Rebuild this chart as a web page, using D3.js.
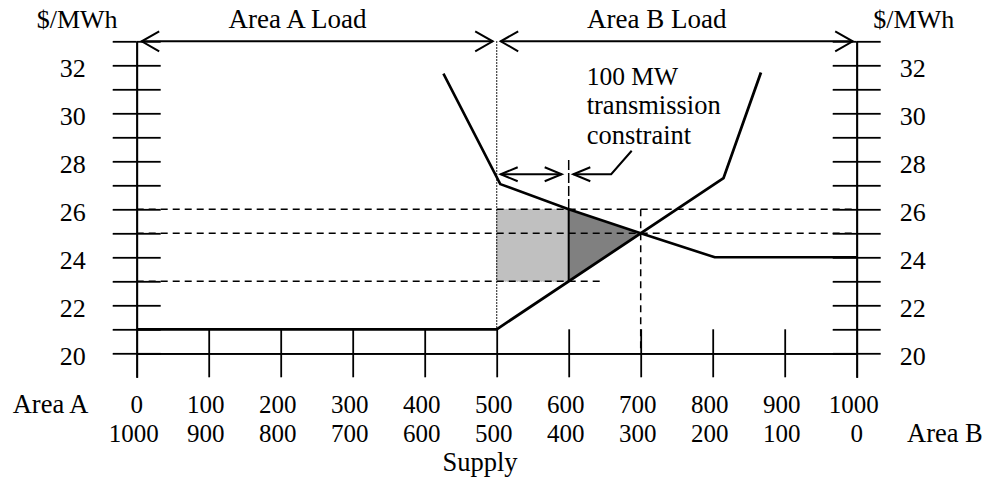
<!DOCTYPE html>
<html>
<head>
<meta charset="utf-8">
<script src="https://cdn.jsdelivr.net/npm/d3@7"></script>
<style>
  html, body { margin: 0; padding: 0; background: #fff; }
  svg text { font-family: "Liberation Serif", "Times New Roman", serif; fill: #000; }
</style>
</head>
<body>
<svg id="chart" width="982" height="480"></svg>
<script>
// ---------------- data ----------------
const priceTicks = [20, 21, 22, 23, 24, 25, 26, 27, 28, 29, 30, 31, 32, 33];
const priceLabels = [20, 22, 24, 26, 28, 30, 32];
const mwTicks = [0, 100, 200, 300, 400, 500, 600, 700, 800, 900, 1000];
const areaALabels = ["0", "100", "200", "300", "400", "500", "600", "700", "800", "900", "1000"];
const areaBLabels = ["1000", "900", "800", "700", "600", "500", "400", "300", "200", "100", "0"];
// Area A supply curve (MW, $/MWh)
const supplyA = [[0, 21], [500, 21], [815, 27.3], [867, 31.7]];
// Area B curve (MW, $/MWh)
const curveB = [[426, 31.65], [505, 27.05], [600, 26], [700, 25], [803, 24], [1000, 24]];
// shaded areas
const lightRect = [[500, 23], [600, 23], [600, 26], [500, 26]];
const darkTri = [[600, 26], [700, 25], [600, 23]];
// dashed guide lines
const hDashes = [{ price: 26, from: 0, to: 1000 }, { price: 25, from: 0, to: 1000 }, { price: 23, from: 0, to: 650 }];
const vDash700 = { mw: 700, from: 20, to: 26 };
const boundaryMW = 500;
const constraintMW = 600;
const constraintTop = 28.05;

// ---------------- scales ----------------
const svg = d3.select("#chart");
const x = d3.scaleLinear().domain([0, 1000]).range([136.7, 856.7]);
const y = d3.scaleLinear().domain([19, 33]).range([377.3, 41.3]);
const FS = 26;
const FSN = 25;

// ---------------- shading ----------------
const lineGen = d3.line().x(d => x(d[0])).y(d => y(d[1]));
svg.append("path").attr("d", lineGen(lightRect) + "Z").attr("fill", "#c0c0c0")
  .attr("stroke", "#a8a8a8").attr("stroke-width", 1).attr("stroke-dasharray", "1,1");
svg.append("path").attr("d", lineGen(darkTri) + "Z").attr("fill", "#808080");

// ---------------- dashed guides ----------------
hDashes.forEach(h => {
  svg.append("line")
    .attr("x1", x(h.from)).attr("x2", x(h.to))
    .attr("y1", y(h.price)).attr("y2", y(h.price))
    .attr("stroke", "#000").attr("stroke-width", 1.5).attr("stroke-dasharray", "7,5");
});
svg.append("line")
  .attr("x1", x(vDash700.mw)).attr("x2", x(vDash700.mw))
  .attr("y1", y(vDash700.to)).attr("y2", y(vDash700.from))
  .attr("stroke", "#000").attr("stroke-width", 1.5).attr("stroke-dasharray", "7,5");
// dotted boundary at 500
svg.append("line")
  .attr("x1", x(boundaryMW)).attr("x2", x(boundaryMW))
  .attr("y1", y(33)).attr("y2", y(21))
  .attr("stroke", "#000").attr("stroke-width", 1.2).attr("stroke-dasharray", "1.5,1.5");
// constraint line at 600
svg.append("line")
  .attr("x1", x(constraintMW)).attr("x2", x(constraintMW))
  .attr("y1", y(constraintTop)).attr("y2", y(26))
  .attr("stroke", "#000").attr("stroke-width", 1.5).attr("stroke-dasharray", "10,3");
svg.append("line")
  .attr("x1", x(constraintMW)).attr("x2", x(constraintMW))
  .attr("y1", y(26)).attr("y2", y(23))
  .attr("stroke", "#000").attr("stroke-width", 2);

// ---------------- axes ----------------
const styleAxis = g => {
  g.selectAll("path.domain").attr("stroke", "#000").attr("stroke-width", 1.8);
  g.selectAll(".tick line").attr("stroke", "#000").attr("stroke-width", 1.8);
  g.selectAll("text").attr("font-size", FS).attr("font-family", "Liberation Serif, Times New Roman, serif").attr("dy", "0.42em");
};
const fmtY = v => priceLabels.includes(v) ? String(v) : "";
// left axis
svg.append("g").attr("transform", `translate(${x(0)},0)`)
  .call(d3.axisLeft(y).tickValues(priceTicks).tickSize(24).tickSizeOuter(0).tickPadding(27).tickFormat(fmtY))
  .call(styleAxis);
svg.append("g").attr("transform", `translate(${x(0)},0)`)
  .call(d3.axisRight(y).tickValues(priceTicks).tickSize(24).tickSizeOuter(0).tickFormat(""))
  .call(styleAxis);
// right axis
svg.append("g").attr("transform", `translate(${x(1000)},0)`)
  .call(d3.axisLeft(y).tickValues(priceTicks).tickSize(24).tickSizeOuter(0).tickFormat(""))
  .call(styleAxis);
svg.append("g").attr("transform", `translate(${x(1000)},0)`)
  .call(d3.axisRight(y).tickValues(priceTicks).tickSize(24).tickSizeOuter(0).tickPadding(19).tickFormat(fmtY))
  .call(styleAxis);
// horizontal axis at 20
const innerMW = mwTicks.slice(1, -1);
svg.append("g").attr("transform", `translate(0,${y(20)})`)
  .call(d3.axisBottom(x).tickValues(innerMW).tickSize(24).tickSizeOuter(0).tickFormat(""))
  .call(styleAxis);
svg.append("g").attr("transform", `translate(0,${y(20)})`)
  .call(d3.axisTop(x).tickValues(innerMW).tickSize(24).tickSizeOuter(0).tickFormat(""))
  .call(styleAxis);

// ---------------- curves ----------------
svg.append("path").attr("d", lineGen(supplyA)).attr("fill", "none")
  .attr("stroke", "#000").attr("stroke-width", 2.8).attr("stroke-linejoin", "round");
svg.append("path").attr("d", lineGen(curveB)).attr("fill", "none")
  .attr("stroke", "#000").attr("stroke-width", 2.6).attr("stroke-linejoin", "round");

// ---------------- arrows ----------------
function arrowHead(px, py, dir, len, half) {
  svg.append("path")
    .attr("d", `M${px - dir * len},${py - half}L${px},${py}L${px - dir * len},${py + half}`)
    .attr("fill", "none").attr("stroke", "#000").attr("stroke-width", 2);
}
function dblArrow(x1, x2, py, len, half) {
  svg.append("line").attr("x1", x1).attr("x2", x2).attr("y1", py).attr("y2", py)
    .attr("stroke", "#000").attr("stroke-width", 2);
  arrowHead(x1, py, -1, len, half);
  arrowHead(x2, py, 1, len, half);
}
const topY = y(33);
dblArrow(x(0) + 5, x(500) - 4, topY, 17.5, 10);
dblArrow(x(500) + 4, x(1000) - 4, topY, 17.5, 10);
const smallY = y(27.46);
dblArrow(x(500) + 4, x(600) - 7, smallY, 17, 7);
svg.append("path")
  .attr("d", `M${x(600) + 4.6},${smallY}L${x(659)},${smallY}L${x(687.5)},${y(28.44)}`)
  .attr("fill", "none").attr("stroke", "#000").attr("stroke-width", 2);
arrowHead(x(600) + 4.6, smallY, -1, 17, 7);

// ---------------- text ----------------
function txt(s, tx, ty, anchor, fs) {
  svg.append("text").attr("x", tx).attr("y", ty).attr("text-anchor", anchor || "start")
    .attr("font-size", fs || FS).text(s);
}
txt("$/MWh", 36.7, 28.3);
txt("$/MWh", 873.3, 28.3);
txt("Area A Load", 297.5, 28.3, "middle", 27);
txt("Area B Load", 656.7, 28.3, "middle", 27);
txt("100 MW", 586.7, 84.5, "start", 25.5);
txt("transmission", 586.7, 114, "start", 26.5);
txt("constraint", 586.7, 143.5, "start", 26.5);

svg.append("g").selectAll("text").data(mwTicks).join("text")
  .attr("x", (d, i) => x(d) - (i === 0 ? 0 : 3)).attr("y", 412.7)
  .attr("text-anchor", "middle").attr("font-size", FSN)
  .text((d, i) => areaALabels[i]);
svg.append("g").selectAll("text").data(mwTicks).join("text")
  .attr("x", (d, i) => x(d) - (i === 10 ? 0 : 3)).attr("y", 441.7)
  .attr("text-anchor", "middle").attr("font-size", FSN)
  .text((d, i) => areaBLabels[i]);
txt("Area A", 12.7, 412.7, "start", 26.5);
txt("Area B", 907, 441.7, "start", 26.5);
txt("Supply", 480, 471, "middle", 26.5);
</script>
</body>
</html>
